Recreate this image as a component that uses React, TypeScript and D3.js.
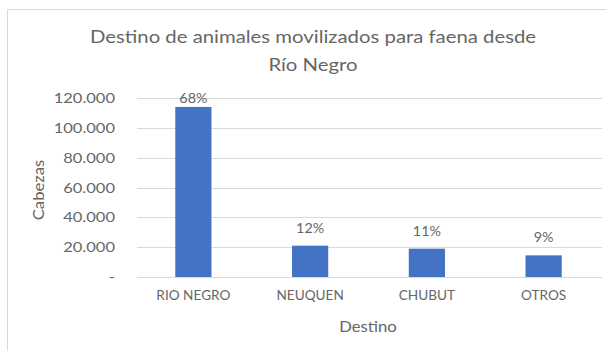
import React from "react";
import * as d3 from "d3";

const categories = ["RIO NEGRO", "NEUQUEN", "CHUBUT", "OTROS"];
const values = [114000, 21000, 19000, 14500];
const percentLabels = ["68%", "12%", "11%", "9%"];
const yTicks = [0, 20000, 40000, 60000, 80000, 100000, 120000];
const yTickLabels = ["-", "20.000", "40.000", "60.000", "80.000", "100.000", "120.000"];

const W = 606;
const H = 351;
const FONT = "Lato, 'Open Sans', sans-serif";
const TEXT = "#666666";

function SText(props: { x: number; y: number; sx?: number; rot?: number; size: number; anchor?: string; children: React.ReactNode }) {
  const { x, y, sx = 1, rot = 0, size, anchor = "middle", children } = props;
  return (
    <text
      transform={`translate(${x},${y}) rotate(${rot}) scale(${sx},1)`}
      textAnchor={anchor}
      fontFamily={FONT}
      fontSize={size}
      fill={TEXT}
    >
      {children}
    </text>
  );
}

export default function App() {
  const x = d3.scaleBand<string>().domain(categories).range([135, 602]).paddingInner(0.69).paddingOuter(0.345);
  const y = d3.scaleLinear().domain([0, 120000]).range([277, 98]);

  return (
    <svg width={W} height={H} style={{ position: "absolute", left: 0, top: 0, background: "#fff" }}>
      <rect x={0} y={0} width={W} height={H} fill="#fff" />
      <line x1={7.5} y1={9} x2={7.5} y2={H} stroke="#d9d9d9" />
      <line x1={7} y1={9.5} x2={W} y2={9.5} stroke="#d9d9d9" />
      <SText x={313} y={43} size={18} sx={1.13}>Destino de animales movilizados para faena desde</SText>
      <SText x={313} y={71} size={18} sx={1.13}>Río Negro</SText>
      {yTicks.map((t, i) => (
        <g key={t}>
          <line x1={137} x2={602} y1={Math.round(y(t)) + 0.5} y2={Math.round(y(t)) + 0.5} stroke="#d9d9d9" />
          <SText x={115} y={y(t) + 5} size={14} sx={1.18} anchor="end">{yTickLabels[i]}</SText>
        </g>
      ))}
      {categories.map((c, i) => {
        const bx = x(c) as number;
        const top = y(values[i]);
        const cx = bx + x.bandwidth() / 2;
        return (
          <g key={c}>
            <rect x={bx} y={top} width={x.bandwidth()} height={y(0) - top} fill="#4472C4" />
            <SText x={cx} y={Math.max(top - 13, 102.5)} size={13} sx={1.1}>{percentLabels[i]}</SText>
            <SText x={cx} y={300} size={12.5} sx={1.09}>{c}</SText>
          </g>
        );
      })}
      <SText x={368} y={332} size={14.5} sx={1.15}>Destino</SText>
      <SText x={44} y={190} size={14.5} sx={1.15} rot={-90}>Cabezas</SText>
    </svg>
  );
}
